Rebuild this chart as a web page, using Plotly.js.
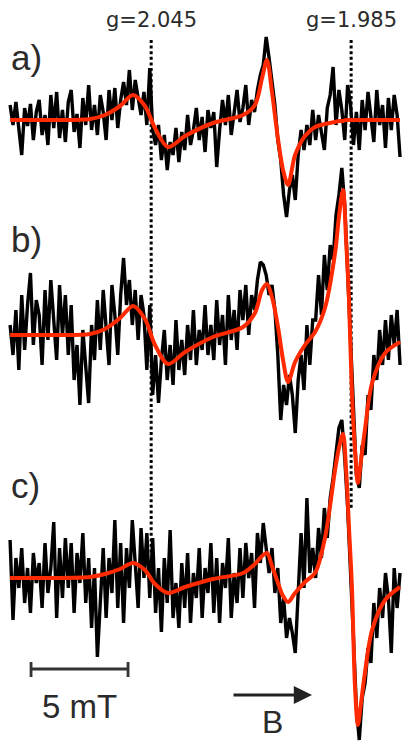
<!DOCTYPE html>
<html>
<head>
<meta charset="utf-8">
<script src="https://cdn.plot.ly/plotly-3.0.1.min.js"></script>
<style>html,body{margin:0;padding:0;background:#fff;}#chart{width:402px;height:742px;}</style>
</head>
<body>
<div id="chart"></div>
<script>
// ---- data (magnetic field in mT, intensity in arbitrary units) ----
const fieldStart = 333.72;      // first sample of the measured spectra, mT
const fieldStep = 0.15;         // sampling step, mT
const freqGHz = 9.76;           // microwave frequency
const gMarkers = [2.045, 1.985];
const gLabels = ["g=2.045", "g=1.985"];
const panelLabels = ["a)", "b)", "c)"];
const scaleStart = 334.80, scaleLength = 5; // mT
const scaleLabel = "5 mT";
const arrowLabel = "B";

const spectrumA = [
 15,-5,18,-10,-35,12,-6,16,-20,8,
 20,-15,5,-25,25,-8,28,-18,10,-22,
 18,30,-12,6,-28,22,-5,35,-10,15,
 -15,25,8,-20,30,0,32,-8,20,38,
 15,50,10,40,22,5,28,-5,52,-10,
 -25,-5,-40,-15,-50,-22,-35,-8,-42,-12,
 -30,5,-25,-10,12,-20,3,-32,10,-8,
 8,-47,-10,20,-5,25,-15,10,30,-2,
 12,35,-5,20,8,30,45,55,83,62,
 40,15,-20,-40,-75,-97,-70,-55,-80,-35,
 -10,-30,-5,-25,10,-20,5,-15,-30,12,
 25,53,-5,30,10,-20,35,15,-25,8,
 -30,20,-10,28,5,-22,30,-5,15,-28,
 22,-10,25,5,-37];
const spectrumB = [
 10,-20,25,-35,40,-15,30,62,-10,35,
 20,-30,45,-5,55,15,-25,50,0,40,
 -20,30,-45,-10,-70,5,-35,-68,10,-25,
 35,-15,45,10,-30,50,20,-20,40,77,
 30,55,10,45,-5,40,20,-35,30,-60,
 -20,-68,-25,5,-45,-10,-50,15,-35,-5,
 -40,10,-25,25,-30,5,-15,30,-20,10,
 -25,35,-10,20,-30,40,-5,25,-15,45,
 15,50,0,40,25,55,73,70,60,40,
 50,25,-20,-85,-50,-70,-40,-60,-98,-45,
 -20,-55,10,-30,15,15,60,20,80,45,
 90,75,120,140,167,130,60,-20,-90,-140,
 -153,-110,-120,-60,-75,-20,-45,5,-30,15,
 -25,20,-10,25,-30];
const spectrumC = [
 38,-42,20,-10,30,-25,10,-35,25,-5,
 15,-30,35,-15,10,56,-40,30,-20,40,
 -10,35,-35,25,-5,45,-25,20,-50,10,
 -79,-20,30,-40,20,-15,58,-30,35,-45,
 30,-10,58,15,-30,50,0,45,-20,40,
 -35,10,-54,20,-25,48,-40,-5,-50,15,
 -30,25,-45,5,-20,30,-40,10,-15,35,
 -35,20,-45,15,-10,40,-40,5,-25,30,
 -20,35,0,25,-30,45,15,55,30,5,
 30,-15,10,-45,-20,-60,-40,-55,-75,-20,
 45,-10,80,5,30,0,50,20,70,40,
 80,100,125,150,158,120,70,10,-60,-130,
 -162,-120,-105,-70,-85,-25,-60,-10,-40,5,
 -20,-75,10,-30,5];

const fitField = [333.72,335.78,337.84,338.61,339.39,340.06,340.67,341.19,341.86,342.74,
 344.18,345.73,346.34,346.71,346.96,347.22,347.53,347.79,348.05,348.41,
 348.92,349.44,349.95,350.47,350.67,350.88,351.04,351.19,351.34,351.50,
 351.65,351.81,352.01,352.38,353.05,353.82];
const fitA = [0,0,1,5,14,25,14,-8,-27,-16,-3,5,15,42,60,28,-19,-50,-65,-35,
 -16,-7,-4,-2,-1,-1,0,0,0,0,0,0,0,0,0,0];
const fitB = [0,0,1,6,17,29,16,-10,-29,-17,-2,8,22,45,51,38,8,-25,-47,-27,
 -10,3,27,82,118,145,95,35,-58,-115,-148,-125,-95,-48,-18,-7];
const fitC = [0,0,1,4,9,15,8,-6,-15,-9,-1,5,14,22,25,12,-5,-18,-24,-15,
 -4,5,40,108,130,144,108,50,-9,-109,-147,-125,-95,-52,-22,-9];

// ---- figure ----
const H = 742, W = 402;
const pxY = p => 1 - p / H;          // paper y from pixel row
const baselines = [120, 335, 578];   // pixel rows of the three baselines
const spectra = [spectrumA, spectrumB, spectrumC];
const fits = [fitA, fitB, fitC];
const axisIds = ['y', 'y2', 'y3'];
const traces = [];
spectra.forEach((s, k) => {
  traces.push({type:'scatter', mode:'lines', x0: fieldStart, dx: fieldStep, y: s,
    yaxis: axisIds[k], line:{color:'#000000', width:3.4}, hoverinfo:'skip'});
  traces.push({type:'scatter', mode:'lines', x: fitField, y: fits[k],
    yaxis: axisIds[k], line:{color:'#ff2a00', width:4, shape:'spline', smoothing:0.9}, hoverinfo:'skip'});
});

const xRange = [333.2, 333.2 + W / 19.4];
const sans = '"Liberation Sans", Arial, sans-serif';
const layout = {
  width: W, height: H,
  margin: {l:0, r:0, t:0, b:0},
  paper_bgcolor: '#ffffff', plot_bgcolor: '#ffffff',
  showlegend: false,
  font: {family: sans, color: '#2b2b2b'},
  xaxis: {range: xRange, visible: false, fixedrange: true},
  shapes: [], annotations: []
};
baselines.forEach((b, k) => {
  const key = k === 0 ? 'yaxis' : 'yaxis' + (k + 1);
  layout[key] = {range: [-(H - b), b], visible: false, fixedrange: true};
  if (k > 0) layout[key].overlaying = 'y';
});

// g-value markers
const markerBottoms = [553, 510];
gMarkers.forEach((g, k) => {
  const B = 71.4477 * freqGHz / g;
  layout.shapes.push({type:'line', xref:'x', yref:'paper', x0:B, x1:B,
    y0: pxY(40), y1: pxY(markerBottoms[k]), layer:'below',
    line:{color:'#000', width:3, dash:'3px,2.6px'}});
  layout.annotations.push({xref:'x', yref:'paper', x:B, y:pxY(20), text:gLabels[k],
    showarrow:false, xanchor:'center', yanchor:'middle',
    font:{family:'"DejaVu Sans", sans-serif', size:21, color:'#2b2b2b'}});
});
// panel labels
const labelRows = [57, 240, 485];
panelLabels.forEach((t, k) => {
  layout.annotations.push({xref:'paper', yref:'paper', x:9/W, y:pxY(labelRows[k]), text:t,
    showarrow:false, xanchor:'left', yanchor:'middle', font:{size:35, color:'#2b2b2b'}});
});
// scale bar
const sb0 = scaleStart, sb1 = scaleStart + scaleLength;
layout.shapes.push({type:'line', xref:'x', yref:'paper', x0:sb0, x1:sb1, y0:pxY(669), y1:pxY(669), line:{color:'#333', width:2.8}});
layout.shapes.push({type:'line', xref:'x', yref:'paper', x0:sb0, x1:sb0, y0:pxY(662), y1:pxY(677), line:{color:'#333', width:2.8}});
layout.shapes.push({type:'line', xref:'x', yref:'paper', x0:sb1, x1:sb1, y0:pxY(662), y1:pxY(677), line:{color:'#333', width:2.8}});
layout.annotations.push({xref:'x', yref:'paper', x:(sb0+sb1)/2, y:pxY(706), text:scaleLabel,
  showarrow:false, xanchor:'center', yanchor:'middle', font:{size:33, color:'#2b2b2b'}});
// field direction arrow
layout.annotations.push({xref:'paper', yref:'paper', x:312/W, y:pxY(695), text:'',
  showarrow:true, ax:-80, ay:0, axref:'pixel', ayref:'pixel', arrowhead:2, arrowsize:1.3,
  arrowwidth:2.8, arrowcolor:'#222'});
layout.annotations.push({xref:'paper', yref:'paper', x:272/W, y:0, text:arrowLabel,
  showarrow:false, xanchor:'center', yanchor:'bottom', font:{size:32, color:'#2b2b2b'}});

Plotly.newPlot('chart', traces, layout, {displayModeBar:false, staticPlot:true});
</script>
</body>
</html>
